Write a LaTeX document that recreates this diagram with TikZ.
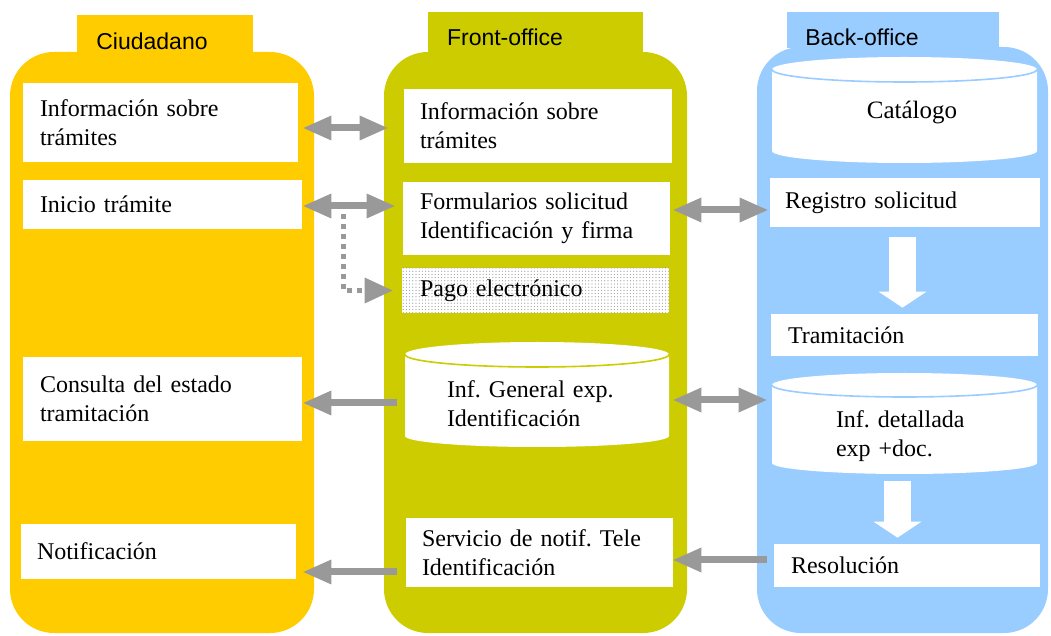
\documentclass[tikz,border=0pt]{standalone}
\usepackage{fontspec}
\setmainfont{Liberation Serif}
\newfontfamily\titlefont{Liberation Sans}
\usetikzlibrary{arrows.meta,patterns.meta}
\frenchspacing

\definecolor{ciudcol}{HTML}{FFCC00}
\definecolor{frontcol}{HTML}{CCCC00}
\definecolor{backcol}{HTML}{99CCFF}
\definecolor{linkgray}{HTML}{999999}

% white drum (database) shape: x-left, x-right, top centre y, bottom centre y,
% top y-radius, bottom y-radius, x-radius, colour of the front rim
\newcommand\drum[8]{%
  \fill[white] (#1,#3) -- (#1,#4)
    arc[start angle=180,end angle=360,x radius=#7,y radius=#6]
    -- (#2,#3)
    arc[start angle=0,end angle=180,x radius=#7,y radius=#5] -- cycle;
  \draw[#8,line width=0.8pt] (#1,#3)
    arc[start angle=180,end angle=360,x radius=#7,y radius=#5];
}

\tikzset{
  tabtitle/.style={font=\titlefont\fontsize{11.5}{13}\selectfont, inner sep=0pt},
  entry/.style={fill=white, inner ysep=0pt, align=left,
    font=\fontsize{12}{14.5}\selectfont},
  drumtext/.style={inner ysep=0pt, align=left,
    font=\fontsize{12}{14.5}\selectfont},
  link/.style={draw=linkgray, line width=3.5pt,
    >={Triangle[length=14pt,width=12.5pt,line width=0pt]}},
  dotlink/.style={draw=linkgray, line width=2.5pt, dash pattern=on 2.5pt off 2.5pt,
    >={Triangle[length=14pt,width=13pt,line width=0pt]}},
  wlink/.style={draw=white, line width=13.5pt,
    -{Triangle[length=8pt,width=24pt,line width=0pt]}},
}

\begin{document}
\begin{tikzpicture}[x=0.5pt,y=-0.5pt]
\useasboundingbox (0,0) rectangle (1051,636);
\fill[white] (0,0) rectangle (1051,636);

% columns with their title tabs
\fill[ciudcol, rounded corners=22pt] (10,52) rectangle (314,633);
\fill[ciudcol] (77,15) rectangle (253,53);
\fill[frontcol, rounded corners=22pt] (384,52) rectangle (687,633);
\fill[frontcol] (428,12) rectangle (643,53);
\fill[backcol, rounded corners=22pt] (757,47) rectangle (1048,633);
\fill[backcol] (787,12) rectangle (999,48);

\node[tabtitle] (tCiud) at (152,41) {Ciudadano};
\node[tabtitle] (tFront) at (505,37) {Front-office};
\node[tabtitle] (tBack) at (862,37) {Back-office};

% Ciudadano
\node[entry, minimum height=39.5pt, text width=120.5pt, inner xsep=8.5pt] (ciInfo) at (160.5,122.5) {Información sobre\\trámites};
\node[entry, minimum height=24.5pt, text width=122.5pt, inner xsep=8.5pt] (ciIni) at (162.5,204.5) {Inicio trámite};
\node[entry, minimum height=42pt, text width=122.5pt, inner xsep=8.5pt] (ciCons) at (162.5,399) {Consulta del estado\\tramitación};
\node[entry, minimum height=27.5pt, text width=121.5pt, inner xsep=8pt] (ciNot) at (158.5,551.5) {Notificación};

% Front-office
\node[entry, minimum height=37pt, text width=118pt, inner xsep=8pt] (frInfo) at (538,126) {Información sobre\\trámites};
\node[entry, minimum height=36.5pt, text width=116.5pt, inner xsep=8.5pt] (frForm) at (536.5,218.5) {Formularios solicitud\\Identificación y firma};
\node[entry, fill=none, preaction={fill=white}, pattern={Dots[distance=1.6pt,radius=0.32pt]}, pattern color=gray!75,
  minimum height=22.5pt, text width=115.5pt, inner xsep=9pt] (frPago) at (535.5,290.5) {Pago electrónico};
\drum{405}{669}{354.5}{436}{6.25pt}{5.5pt}{66pt}{frontcol}
\node[drumtext, minimum width=132pt, text width=90pt, inner xsep=21pt] (fcyl) at (537,403.5) {Inf. General exp.\\Identificación};
\node[entry, minimum height=34.5pt, text width=117.5pt, inner xsep=8pt] (frServ) at (539.5,552.5) {Servicio de notif. Tele\\Identificación};

% Back-office
\drum{772}{1037}{69.5}{151}{6.25pt}{6pt}{66.25pt}{backcol}
\node[drumtext, font=\fontsize{12.5}{14.5}\selectfont] (bcyl1) at (912,113) {Catálogo};
\node[entry, minimum height=24.5pt, text width=120pt, inner xsep=7.5pt] (bkReg) at (905,202.5) {Registro solicitud};
\node[entry, minimum height=21pt, text width=116.5pt, inner xsep=8.5pt] (bkTram) at (904.5,335) {Tramitación};
\drum{772}{1037}{385}{463}{6pt}{5.5pt}{66.25pt}{backcol}
\node[drumtext, minimum width=132.5pt, minimum height=37.5pt, text width=68.5pt, inner xsep=32pt] (bcyl2) at (904.5,436.5) {Inf. detallada\\exp +doc.};
\node[entry, minimum height=21.5pt, text width=116pt, inner xsep=8.5pt] (bkRes) at (907,565.5) {Resolución};

% flow inside the back-office
\draw[wlink, shorten <=5pt, shorten >=3pt] (bkReg.south -| 902.5,0) -- (bkTram.north -| 902.5,0);
\draw[wlink, shorten <=3.5pt, shorten >=3pt] (bcyl2.south -| 897.5,0) -- (bkRes.north -| 897.5,0);

% exchanges between the columns
\draw[link, <->, shorten <=2.5pt, shorten >=8pt] (ciInfo.east |- 0,128) -- (frInfo.west |- 0,128);
\draw[link, <->, shorten <=0.5pt, shorten >=4pt] (ciIni.east |- 0,206) -- (frForm.west |- 0,206);
\coordinate (paydrop) at (343,214);
\draw[dotlink, ->, shorten >=4.5pt] (paydrop) |- (frPago.west);
\draw[link, ->, shorten <=4pt, shorten >=0.5pt] (fcyl.west |- 0,403) -- (ciCons.east |- 0,403);
\draw[link, <->, shorten <=1.5pt, shorten >=1pt] (frForm.east |- 0,210) -- (bkReg.west |- 0,210);
\draw[link, <->, shorten <=2pt, shorten >=2.5pt] (fcyl.east |- 0,400) -- (bcyl2.west |- 0,400);
\draw[link, ->, shorten <=3.5pt] (bkRes.west |- 0,560) -- (frServ.east |- 0,560);
\draw[link, ->, shorten <=4.5pt, shorten >=3.5pt] (frServ.west |- 0,572) -- (ciNot.east |- 0,572);
\end{tikzpicture}
\end{document}
